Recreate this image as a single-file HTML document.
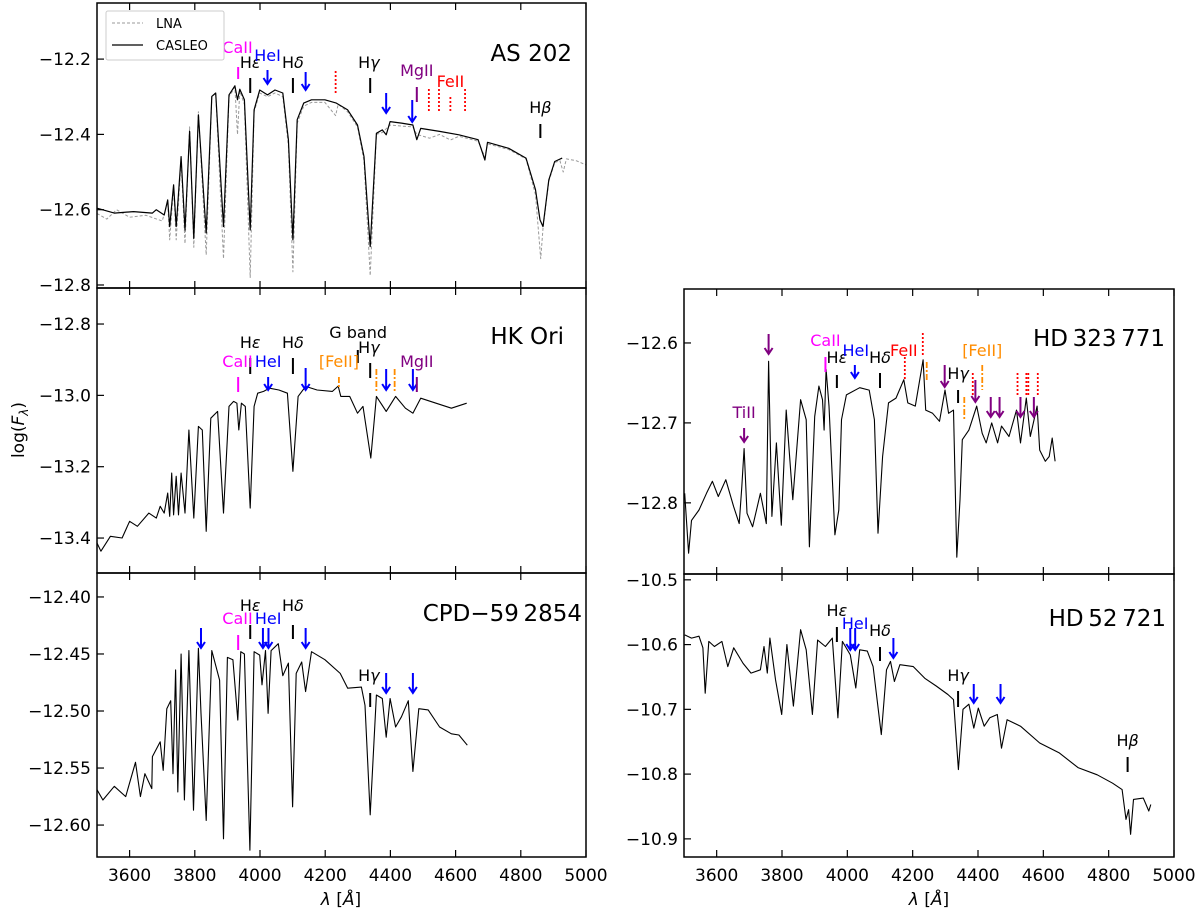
<!DOCTYPE html>
<html><head><meta charset="utf-8"><style>
html,body{margin:0;padding:0;background:#fff;}
svg{display:block;font-family:"DejaVu Sans","Liberation Sans",sans-serif;}
</style></head><body>
<svg id="fig" width="1200" height="915" viewBox="0 0 1200 915" xmlns="http://www.w3.org/2000/svg"></svg>
<script>
// ---------- data ----------
const as202Wl = [3500,3553,3612,3670,3682,3706,3717,3723,3735,3743,3758,3770,3784,3797,3811,3835,3852,3864,3888,3905,3923,3931,3938,3952,3970,3982,3999,4023,4046,4070,4087,4101,4114,4134,4158,4199,4234,4269,4299,4319,4338,4357,4375,4387,4399,4434,4469,4481,4493,4551,4610,4669,4690,4698,4763,4816,4845,4859,4868,4886,4904,4927];
const as202Flux = [-12.596,-12.609,-12.605,-12.609,-12.600,-12.614,-12.574,-12.645,-12.534,-12.645,-12.459,-12.654,-12.392,-12.676,-12.348,-12.662,-12.299,-12.290,-12.645,-12.295,-12.271,-12.308,-12.280,-12.308,-12.654,-12.335,-12.282,-12.295,-12.282,-12.290,-12.414,-12.680,-12.361,-12.317,-12.308,-12.308,-12.317,-12.335,-12.375,-12.459,-12.698,-12.397,-12.388,-12.401,-12.366,-12.370,-12.375,-12.414,-12.384,-12.392,-12.401,-12.414,-12.468,-12.421,-12.437,-12.463,-12.547,-12.627,-12.645,-12.521,-12.472,-12.463];
const lnaWl = [3500,3530,3560,3600,3650,3700,3717,3723,3735,3743,3758,3770,3784,3797,3811,3835,3852,3864,3888,3905,3923,3931,3938,3952,3970,3982,3999,4023,4046,4070,4087,4101,4114,4134,4158,4199,4232,4240,4269,4299,4319,4338,4357,4375,4399,4434,4469,4481,4520,4551,4584,4610,4669,4690,4698,4763,4816,4845,4861,4868,4886,4904,4920,4930,4940,4970,5000];
const lnaFlux = [-12.610,-12.625,-12.600,-12.620,-12.615,-12.630,-12.580,-12.680,-12.540,-12.680,-12.470,-12.690,-12.380,-12.700,-12.340,-12.720,-12.300,-12.290,-12.730,-12.300,-12.275,-12.400,-12.285,-12.320,-12.780,-12.340,-12.290,-12.300,-12.290,-12.300,-12.430,-12.765,-12.370,-12.325,-12.315,-12.315,-12.350,-12.320,-12.340,-12.380,-12.470,-12.775,-12.400,-12.395,-12.375,-12.378,-12.380,-12.400,-12.410,-12.400,-12.415,-12.405,-12.418,-12.460,-12.425,-12.440,-12.465,-12.560,-12.730,-12.650,-12.525,-12.475,-12.470,-12.500,-12.465,-12.470,-12.481];
const hkWl = [3500,3512,3541,3577,3600,3624,3659,3682,3694,3706,3717,3723,3729,3735,3743,3750,3758,3770,3782,3797,3811,3823,3835,3849,3870,3888,3905,3919,3929,3935,3943,3955,3970,3982,3993,4011,4029,4058,4084,4101,4117,4140,4175,4222,4240,4248,4275,4299,4316,4340,4357,4387,4416,4446,4469,4493,4540,4587,4634];
const hkFlux = [-13.414,-13.437,-13.395,-13.400,-13.353,-13.367,-13.330,-13.344,-13.311,-13.330,-13.274,-13.339,-13.218,-13.335,-13.227,-13.335,-13.218,-13.330,-13.097,-13.344,-13.087,-13.097,-13.381,-13.064,-13.045,-13.330,-13.031,-13.017,-13.022,-13.097,-13.022,-13.031,-13.316,-13.031,-12.994,-12.989,-12.980,-12.985,-12.994,-13.213,-13.003,-12.975,-12.985,-12.989,-12.974,-13.003,-13.003,-13.050,-13.031,-13.176,-13.003,-13.045,-13.003,-13.036,-13.050,-13.008,-13.022,-13.036,-13.022];
const cpdWl = [3500,3518,3553,3588,3618,3633,3647,3668,3670,3694,3703,3714,3726,3733,3741,3748,3758,3768,3782,3796,3811,3819,3835,3852,3876,3888,3900,3917,3932,3941,3952,3969,3982,3999,4006,4017,4025,4034,4056,4070,4087,4100,4111,4128,4140,4158,4199,4246,4269,4311,4322,4338,4357,4375,4387,4399,4416,4434,4455,4469,4487,4516,4551,4587,4610,4636];
const cpdFlux = [-12.569,-12.578,-12.566,-12.575,-12.545,-12.575,-12.555,-12.568,-12.540,-12.527,-12.552,-12.498,-12.491,-12.555,-12.464,-12.571,-12.450,-12.578,-12.447,-12.587,-12.445,-12.502,-12.596,-12.447,-12.473,-12.612,-12.453,-12.455,-12.508,-12.448,-12.450,-12.622,-12.448,-12.451,-12.477,-12.447,-12.502,-12.447,-12.441,-12.469,-12.458,-12.584,-12.467,-12.457,-12.483,-12.448,-12.455,-12.467,-12.480,-12.479,-12.495,-12.591,-12.486,-12.489,-12.523,-12.489,-12.514,-12.505,-12.491,-12.553,-12.498,-12.499,-12.514,-12.520,-12.521,-12.530];
const hd323Wl = [3502,3514,3523,3546,3569,3587,3605,3628,3652,3669,3677,3684,3693,3710,3734,3752,3759,3769,3783,3798,3813,3833,3857,3874,3884,3900,3913,3924,3929,3935,3944,3962,3974,3982,3997,4038,4067,4083,4094,4108,4126,4149,4173,4185,4208,4232,4240,4261,4282,4299,4310,4325,4335,4345,4352,4372,4396,4413,4425,4442,4460,4472,4495,4518,4530,4548,4560,4581,4589,4606,4618,4627,4636];
const hd323Flux = [-12.788,-12.863,-12.822,-12.809,-12.788,-12.773,-12.792,-12.771,-12.805,-12.826,-12.780,-12.732,-12.813,-12.830,-12.788,-12.826,-12.623,-12.817,-12.725,-12.828,-12.684,-12.796,-12.671,-12.696,-12.855,-12.692,-12.654,-12.671,-12.709,-12.633,-12.679,-12.840,-12.809,-12.696,-12.665,-12.656,-12.659,-12.696,-12.838,-12.742,-12.675,-12.669,-12.646,-12.675,-12.679,-12.621,-12.684,-12.688,-12.698,-12.659,-12.688,-12.684,-12.868,-12.796,-12.721,-12.709,-12.679,-12.713,-12.725,-12.700,-12.725,-12.704,-12.717,-12.684,-12.725,-12.669,-12.717,-12.679,-12.734,-12.748,-12.742,-12.719,-12.748];
const hd52Wl = [3502,3523,3546,3558,3565,3576,3593,3616,3634,3652,3681,3705,3734,3745,3755,3763,3780,3799,3815,3835,3857,3874,3893,3909,3933,3954,3971,3985,4009,4026,4038,4061,4079,4104,4120,4132,4144,4161,4202,4237,4272,4308,4325,4340,4354,4372,4387,4401,4419,4436,4459,4472,4489,4530,4589,4648,4706,4765,4812,4841,4853,4861,4867,4876,4906,4923,4929];
const hd52Flux = [-10.585,-10.590,-10.587,-10.605,-10.675,-10.595,-10.603,-10.595,-10.634,-10.605,-10.629,-10.644,-10.639,-10.603,-10.644,-10.590,-10.654,-10.708,-10.600,-10.695,-10.577,-10.608,-10.708,-10.593,-10.603,-10.590,-10.713,-10.595,-10.616,-10.667,-10.608,-10.610,-10.634,-10.739,-10.639,-10.626,-10.657,-10.631,-10.634,-10.652,-10.664,-10.677,-10.685,-10.793,-10.700,-10.692,-10.729,-10.698,-10.726,-10.713,-10.708,-10.760,-10.716,-10.726,-10.752,-10.767,-10.790,-10.801,-10.814,-10.824,-10.870,-10.855,-10.893,-10.839,-10.837,-10.857,-10.847];
const xTicks = [3600,3800,4000,4200,4400,4600,4800,5000];
const yTicksAS = [-12.2,-12.4,-12.6,-12.8];
const yTicksHK = [-12.8,-13.0,-13.2,-13.4];
const yTicksCPD = [-12.40,-12.45,-12.50,-12.55,-12.60];
const yTicks323 = [-12.6,-12.7,-12.8];
const yTicks52 = [-10.5,-10.6,-10.7,-10.8,-10.9];

// ---------- layout ----------
const NS = "http://www.w3.org/2000/svg";
const svg = document.getElementById('fig');
const panels = [
 {name:'as202', x0:97,x1:586,y0:3,y1:288,vmin:-12.808,vmax:-12.051,ticks:yTicksAS,dec:1,title:'AS 202',tx:572,ty:61,xl:false},
 {name:'hk-ori', x0:97,x1:586,y0:288,y1:573,vmin:-13.498,vmax:-12.699,ticks:yTicksHK,dec:1,title:'HK Ori',tx:564,ty:344,xl:false},
 {name:'cpd', x0:97,x1:586,y0:573,y1:857,vmin:-12.628,vmax:-12.379,ticks:yTicksCPD,dec:2,title:'CPD\u221259\u20092854',tx:582,ty:621,xl:true},
 {name:'hd323771', x0:684,x1:1174,y0:289,y1:574,vmin:-12.889,vmax:-12.5325,ticks:yTicks323,dec:1,title:'HD\u2009323\u2009771',tx:1165,ty:346,xl:false},
 {name:'hd52721', x0:684,x1:1174,y0:574,y1:857,vmin:-10.928,vmax:-10.491,ticks:yTicks52,dec:1,title:'HD\u200952\u2009721',tx:1166,ty:626,xl:true}
];
function xs(p,l){return p.x0+(l-3500)/1500*(p.x1-p.x0);}
function ys(p,v){return p.y1-(v-p.vmin)/(p.vmax-p.vmin)*(p.y1-p.y0);}
function mk(tag,attrs,parent){const e=document.createElementNS(NS,tag);for(const k in attrs)e.setAttribute(k,attrs[k]);(parent||svg).appendChild(e);return e;}

function drawSeries(p,wl,fl,stroke,dash,w,name){
  let d='';
  for(let i=0;i<wl.length;i++){d+=(i?'L':'M')+xs(p,wl[i]).toFixed(1)+','+ys(p,fl[i]).toFixed(1);}
  const e=mk('path',{d:d,fill:'none',stroke:stroke,'stroke-width':w,'stroke-linejoin':'round'});
  if(dash)e.setAttribute('stroke-dasharray',dash);
  
  
}

panels.forEach(p=>{
  const g=mk('g',{});
  
  
  const clip=mk('clipPath',{id:'c-'+p.name});
  mk('rect',{x:p.x0,y:p.y0,width:p.x1-p.x0,height:p.y1-p.y0},clip);
  xTicks.forEach(t=>{
    const x=xs(p,t);
    const a=mk('line',{x1:x,x2:x,y1:p.y1,y2:p.y1-7,stroke:'#000','stroke-width':1.2},g);
    
    
    mk('line',{x1:x,x2:x,y1:p.y0,y2:p.y0+7,stroke:'#000','stroke-width':1.2},g);
    if(p.xl){
      const t1=mk('text',{x:x,y:p.y1+24,'text-anchor':'middle','font-size':17},g);
      t1.textContent=t;
      
      
    }
  });
  p.ticks.forEach(t=>{
    const y=ys(p,t);
    mk('line',{x1:p.x0,x2:p.x0+7,y1:y,y2:y,stroke:'#000','stroke-width':1.2},g);
    const tl=mk('text',{x:p.x0-6,y:y+6,'text-anchor':'end','font-size':17},g);
    tl.textContent=(t<0?'\u2212':'')+Math.abs(t).toFixed(p.dec);
    
    
  });
  const tt=mk('text',{x:p.tx,y:p.ty,'text-anchor':'end','font-size':23},g);
  tt.textContent=p.title;
  
  
});

const P=panels;
drawSeries(P[0],lnaWl,lnaFlux,'#9a9a9a','3,2',1,'lna-spectrum');
drawSeries(P[0],as202Wl,as202Flux,'#000',null,1.2,'casleo-spectrum-as202');
drawSeries(P[1],hkWl,hkFlux,'#000',null,1.1,'spectrum-hk-ori');
drawSeries(P[2],cpdWl,cpdFlux,'#000',null,1.1,'spectrum-cpd');
drawSeries(P[3],hd323Wl,hd323Flux,'#000',null,1.1,'spectrum-hd323771');
drawSeries(P[4],hd52Wl,hd52Flux,'#000',null,1.1,'spectrum-hd52721');

panels.forEach(p=>{
  const r=mk('rect',{x:p.x0,y:p.y0,width:p.x1-p.x0,height:p.y1-p.y0,fill:'none',stroke:'#000','stroke-width':1.5});
  
  
});

// annotation markers: [panel, type, lambda, yTop, yBottom, color]
const MAG='#ff00ff',BLU='#0000ff',PUR='#800080',RED='#ff0000',ORA='#ff8c00',BLK='#000';
const marks = [
 [0,'tick',3933,67,79,MAG],[0,'tick',3970,78,93,BLK],[0,'arrow',4023,70,84,BLU],[0,'tick',4101,78,93,BLK],[0,'arrow',4140,72,90,BLU],
 [0,'dot',4232,71,94,RED],[0,'tick',4338,78,93,BLK],[0,'arrow',4387,93,113,BLU],[0,'tick',4481,87,102,PUR],[0,'arrow',4467,100,122,BLU],
 [0,'dot',4518,89,113,RED],[0,'dot',4549,89,113,RED],[0,'dot',4584,97,111,RED],[0,'dot',4629,89,113,RED],[0,'tick',4860,124,138,BLK],
 [1,'tick',3970,358,374,BLK],[1,'tick',4101,358,374,BLK],[1,'tick',4300,350,363,BLK],[1,'tick',4338,363,378,BLK],[1,'tick',3933,377,392,MAG],
 [1,'arrow',4025,377,390,BLU],[1,'dd',4242,377,388,ORA],[1,'arrow',4140,368,390,BLU],[1,'dd',4357,369,392,ORA],[1,'dd',4413,369,392,ORA],
 [1,'arrow',4387,369,390,BLU],[1,'arrow',4469,369,390,BLU],[1,'tick',4481,377,392,PUR],
 [2,'tick',3970,625,639,BLK],[2,'tick',4101,625,639,BLK],[2,'tick',3933,635,650,MAG],[2,'arrow',4009,628,648,BLU],[2,'arrow',4026,628,648,BLU],
 [2,'arrow',3819,628,648,BLU],[2,'arrow',4140,628,648,BLU],[2,'tick',4338,693,707,BLK],[2,'arrow',4387,673,693,BLU],[2,'arrow',4469,673,693,BLU],
 [3,'arrow',3684,428,442,PUR],[3,'arrow',3759,334,354,PUR],[3,'tick',3933,357,372,MAG],[3,'tick',3968,375,388,BLK],[3,'arrow',4023,365,378,BLU],
 [3,'tick',4100,373,388,BLK],[3,'dot',4176,357,380,RED],[3,'dot',4231,333,357,RED],[3,'dd',4243,362,380,ORA],[3,'arrow',4298,365,387,PUR],
 [3,'tick',4339,390,403,BLK],[3,'dd',4358,397,420,ORA],[3,'dd',4413,365,390,ORA],[3,'dot',4384,373,397,RED],[3,'arrow',4392,380,402,PUR],
 [3,'arrow',4439,397,417,PUR],[3,'arrow',4466,397,417,PUR],[3,'arrow',4530,397,417,PUR],[3,'arrow',4571,397,417,PUR],
 [3,'dot',4521,373,397,RED],[3,'dot',4548,373,397,RED],[3,'dot',4554,373,397,RED],[3,'dot',4583,373,397,RED],
 [4,'tick',3968,627,642,BLK],[4,'arrow',4009,628,650,BLU],[4,'arrow',4024,628,650,BLU],[4,'tick',4100,647,661,BLK],[4,'arrow',4141,638,658,BLU],
 [4,'tick',4339,691,707,BLK],[4,'arrow',4387,684,703,BLU],[4,'arrow',4469,684,703,BLU],[4,'tick',4858,757,772,BLK]
];
marks.forEach(m=>{
  const p=P[m[0]],x=xs(p,m[2]);
  let e;
  if(m[1]==='arrow'){
    e=mk('path',{d:`M${x},${m[3]}L${x},${m[4]}M${x-4},${m[4]-6}L${x},${m[4]}L${x+4},${m[4]-6}`,fill:'none',stroke:m[5],'stroke-width':2});
    
  } else {
    e=mk('line',{x1:x,x2:x,y1:m[3],y2:m[4],stroke:m[5],'stroke-width':m[1]==='tick'?2:1.8});
    if(m[1]==='dot')e.setAttribute('stroke-dasharray','2,2');
    if(m[1]==='dd')e.setAttribute('stroke-dasharray','6,2,2,2');
    
  }
  
});

// annotation labels: [panel, text, lambda, yCenter, color, greek]
const labels = [
 [0,'CaII',3931,47,MAG,''],[0,'H',3970,62,BLK,'\u03b5'],[0,'HeI',4023,55,BLU,''],[0,'H',4101,62,BLK,'\u03b4'],[0,'H',4334,62,BLK,'\u03b3'],
 [0,'MgII',4481,70,PUR,''],[0,'FeII',4584,81,RED,''],[0,'H',4860,107,BLK,'\u03b2'],
 [1,'H',3970,342,BLK,'\u03b5'],[1,'H',4101,342,BLK,'\u03b4'],[1,'G band',4301,332,BLK,''],[1,'H',4334,347,BLK,'\u03b3'],[1,'CaII',3931,361,MAG,''],
 [1,'HeI',4025,361,BLU,''],[1,'[FeII]',4242,361,ORA,''],[1,'MgII',4481,361,PUR,''],
 [2,'H',3970,605,BLK,'\u03b5'],[2,'H',4101,605,BLK,'\u03b4'],[2,'CaII',3931,618,MAG,''],[2,'HeI',4025,618,BLU,''],[2,'H',4334,675,BLK,'\u03b3'],
 [3,'TiII',3684,412,PUR,''],[3,'CaII',3933,340,MAG,''],[3,'H',3968,357,BLK,'\u03b5'],[3,'HeI',4026,350,BLU,''],[3,'H',4100,357,BLK,'\u03b4'],
 [3,'FeII',4173,350,RED,''],[3,'H',4339,373,BLK,'\u03b3'],[3,'[FeII]',4413,350,ORA,''],
 [4,'H',3968,610,BLK,'\u03b5'],[4,'HeI',4024,623,BLU,''],[4,'H',4100,630,BLK,'\u03b4'],[4,'H',4339,675,BLK,'\u03b3'],[4,'H',4858,740,BLK,'\u03b2']
];
labels.forEach(l=>{
  const p=P[l[0]];
  const t=mk('text',{x:xs(p,l[2]),y:l[3]+6,'text-anchor':'middle','font-size':16,fill:l[4]});
  t.textContent=l[1];
  if(l[5]){const s=mk('tspan',{'font-style':'italic'},t);s.textContent=l[5];}
  
  
});

// legend
const lg=mk('g',{});


mk('rect',{x:106,y:11,width:118,height:49,fill:'#fff',stroke:'#ccc','stroke-width':1,rx:2},lg);
const l1=mk('line',{x1:112,x2:143,y1:23,y2:23,stroke:'#9a9a9a','stroke-width':1,'stroke-dasharray':'3,2'},lg);


const t1=mk('text',{x:156,y:28,'font-size':13},lg);t1.textContent='LNA';
const l2=mk('line',{x1:112,x2:143,y1:45,y2:45,stroke:'#000','stroke-width':1.2},lg);


const t2=mk('text',{x:156,y:50,'font-size':13},lg);t2.textContent='CASLEO';

// axis titles
const yt=mk('text',{x:0,y:0,'font-size':17,'text-anchor':'middle',transform:'translate(24,430) rotate(-90)'});
yt.innerHTML='log(<tspan font-style="italic">F</tspan><tspan font-style="italic" font-size="12" dy="4">\u03bb</tspan><tspan dy="-4">)</tspan>';


[[341,'x-axis-title-left'],[929,'x-axis-title-right']].forEach(a=>{
  const t=mk('text',{x:a[0],y:905,'font-size':17,'text-anchor':'middle'});
  t.innerHTML='<tspan font-style="italic">\u03bb</tspan> [<tspan font-style="italic">\u00c5</tspan>]';
  
  
});
</script>
</body></html>
